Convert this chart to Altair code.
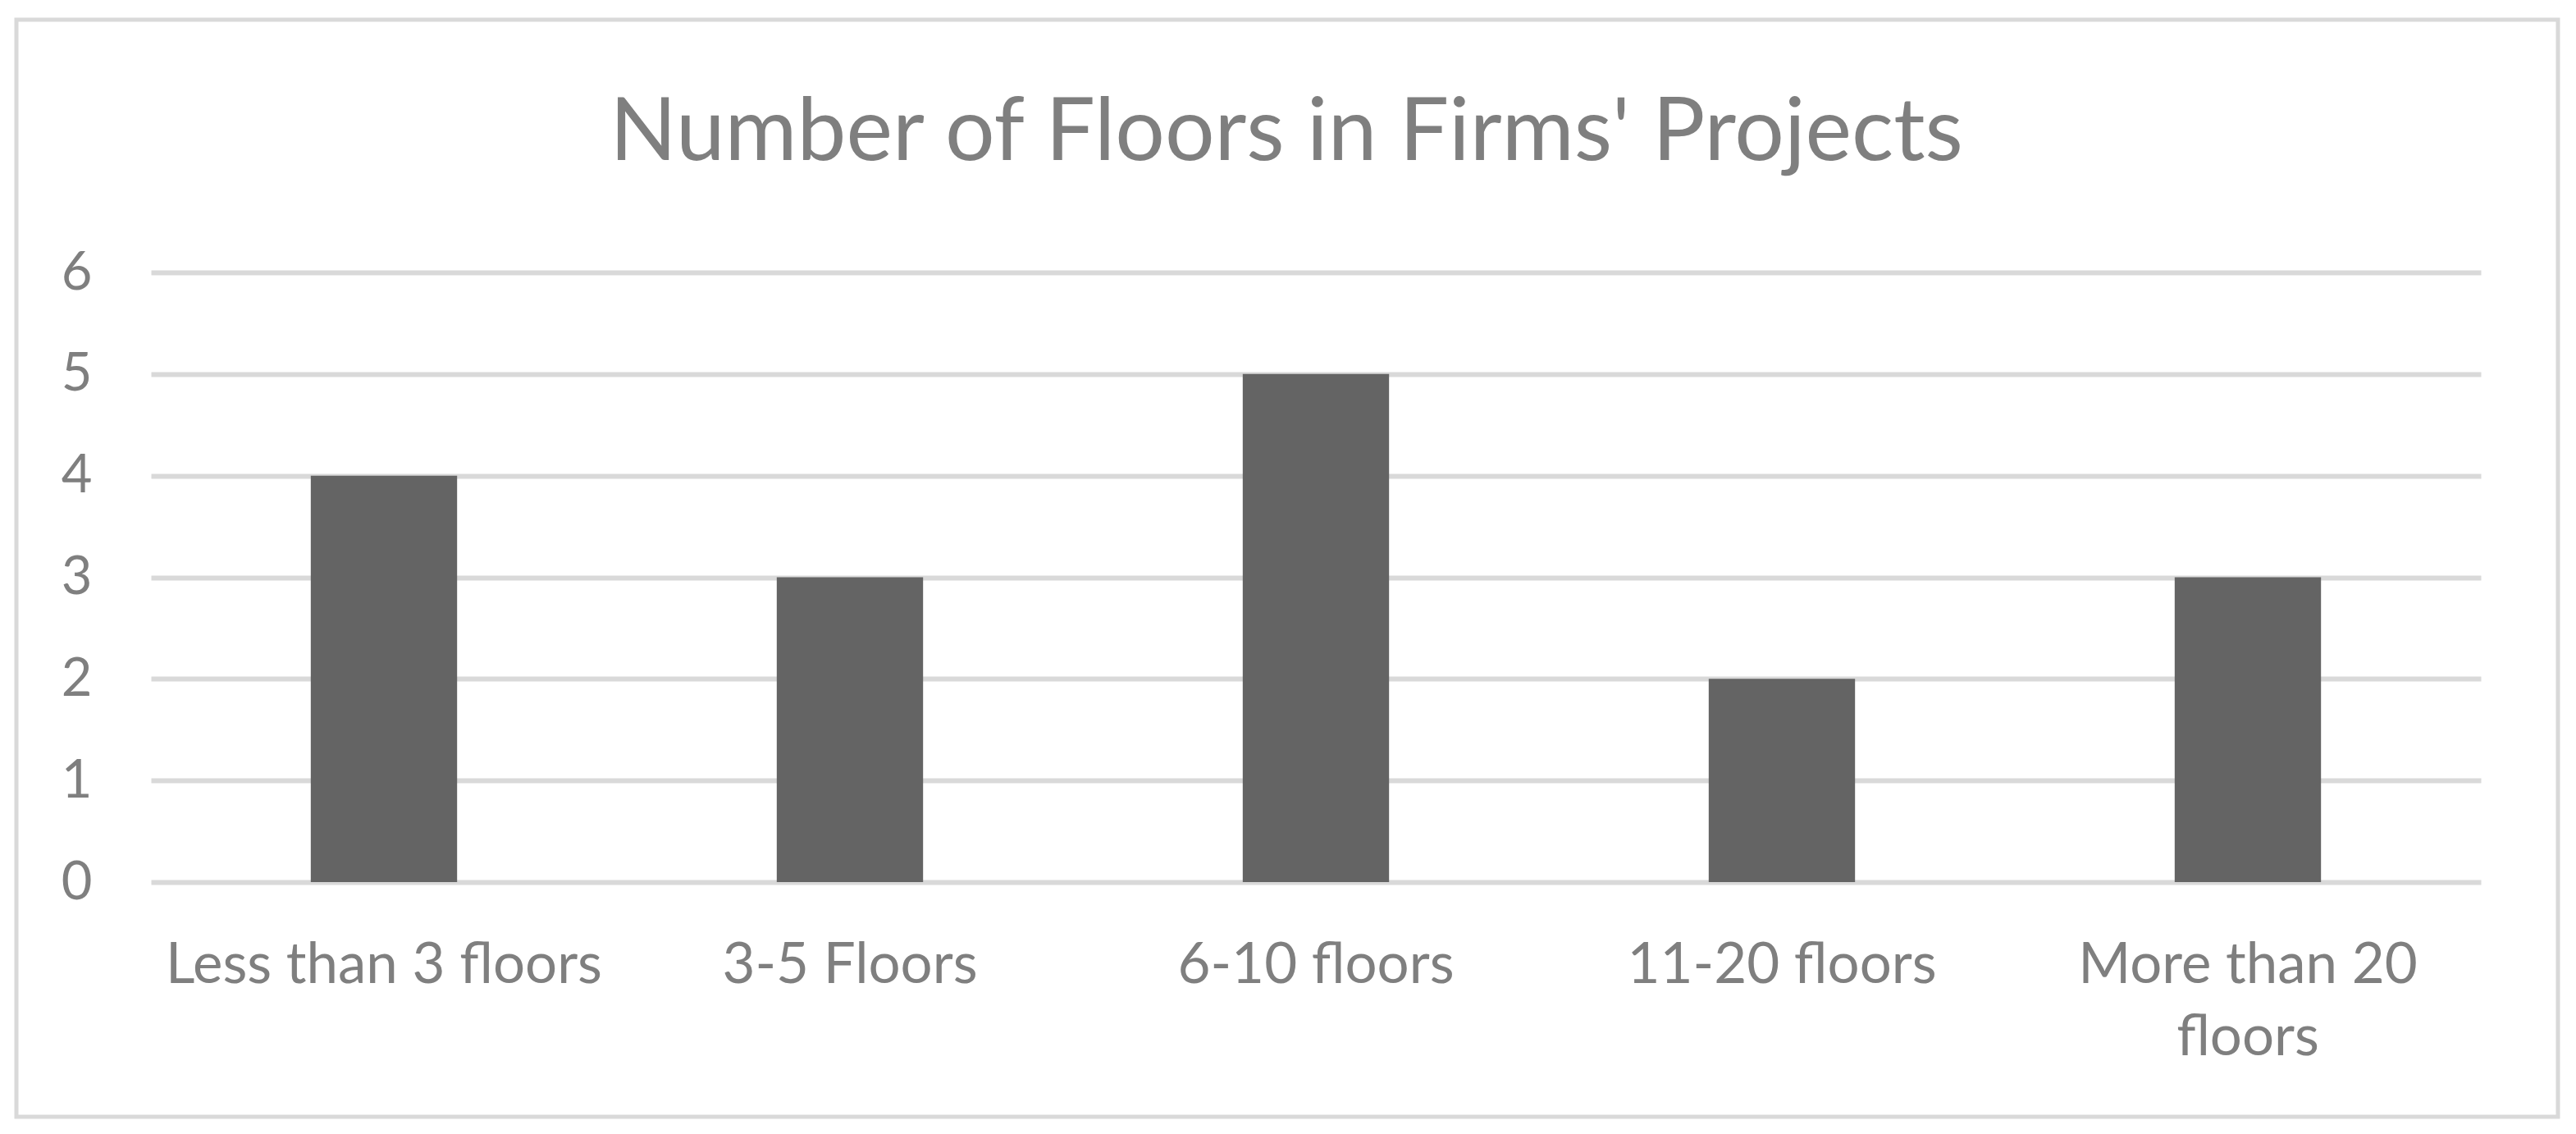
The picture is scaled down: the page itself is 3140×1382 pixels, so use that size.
import altair as alt
import pandas as pd

categories = ["Less than 3 floors", "3-5 Floors", "6-10 floors", "11-20 floors", "More than 20 floors"]
counts = [4, 3, 5, 2, 3]
y_ticks = [0, 1, 2, 3, 4, 5, 6]
title_text = "Number of Floors in Firms' Projects"

df = pd.DataFrame({"category": categories, "count": counts})
frame_df = pd.DataFrame({"k": [0]})

FONT = "Lato"
TEXT = "#7f7f7f"

bars = alt.Chart(df).mark_bar(color="#646464").encode(
    x=alt.X(
        "category:N",
        sort=categories,
        scale=alt.Scale(paddingInner=0.686, paddingOuter=0.343),
        axis=alt.Axis(
            title=None,
            labelAngle=0,
            labelFont=FONT,
            labelFontSize=69,
            labelColor=TEXT,
            labelPadding=67,
            labelBaseline="top",
            labelLineHeight=88,
            labelLimit=1200,
            labelExpr="datum.value == 'More than 20 floors' ? ['More than 20', 'floors'] : datum.label",
            ticks=False,
            domain=False,
            grid=False,
        ),
    ),
    y=alt.Y(
        "count:Q",
        scale=alt.Scale(domain=[0, 6], nice=False),
        axis=alt.Axis(
            title=None,
            values=y_ticks,
            labelFont=FONT,
            labelFontSize=65,
            labelColor=TEXT,
            labelPadding=72,
            labelBaseline="middle",
            ticks=False,
            domain=False,
            grid=True,
            gridColor="#d9d9d9",
            gridWidth=6,
        ),
    ),
)

frame = alt.Chart(frame_df).mark_rect(fill="transparent", stroke="#d9d9d9", strokeWidth=5).encode(
    x=alt.value(-164),
    x2=alt.value(2934),
    y=alt.value(-308),
    y2=alt.value(1029),
)

chart = alt.layer(frame, bars).properties(
    width=2840,
    height=743,
    autosize="none",
    padding={"left": 176, "top": 324, "right": 108, "bottom": 299},
    title=alt.TitleParams(
        text=title_text,
        font=FONT,
        fontSize=107,
        fontWeight="normal",
        color=TEXT,
        anchor="middle",
        dx=-36,
        baseline="alphabetic",
        offset=-280,
    ),
).configure(background="white").configure_view(strokeWidth=0, stroke="transparent")

chart.save("out.html", embed_options={"renderer": "svg", "actions": False})
